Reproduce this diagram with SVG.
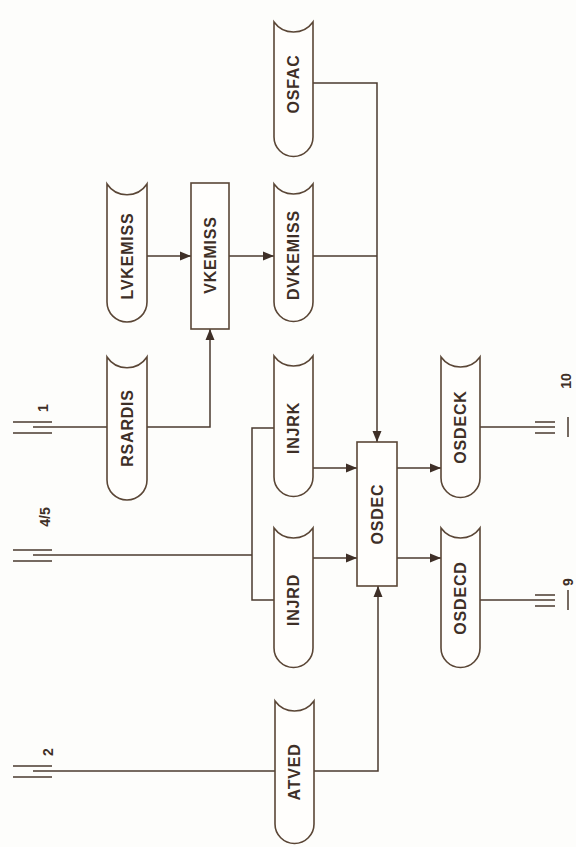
<svg xmlns="http://www.w3.org/2000/svg" width="576" height="847" viewBox="0 0 576 847">
  <defs>
    <marker id="arr" markerWidth="12" markerHeight="10" refX="11" refY="5" orient="auto" markerUnits="userSpaceOnUse">
      <path d="M0,0.5 L11,5 L0,9.5 Z" fill="#3e2f27"/>
    </marker>
  </defs>
  <style>
    .shape { fill: #fffefc; stroke: #5a4636; stroke-width: 1.6; }
    .wire { fill: none; stroke: #4a3a2f; stroke-width: 1.5; }
    .lbl { font-family: "Liberation Sans", Arial, sans-serif; font-size: 16px; font-weight: bold; fill: #3e2f27; text-anchor: middle; dominant-baseline: central; letter-spacing: 0.8px; }
    .num { font-family: "Liberation Sans", Arial, sans-serif; font-size: 14px; font-weight: bold; fill: #3e2f27; text-anchor: middle; dominant-baseline: central; }
  </style>
  <rect width="576" height="847" fill="#fdfdfb"/>

  <!-- connectors -->
  <g id="connectors">
    <path class="wire" d="M313,83 H377 V442" marker-end="url(#arr)"/>
    <path class="wire" d="M313,256 H377"/>
    <path class="wire" d="M147,256 H191" marker-end="url(#arr)"/>
    <path class="wire" d="M229,256 H274" marker-end="url(#arr)"/>
    <path class="wire" d="M147,427 H210 V329" marker-end="url(#arr)"/>
    <path class="wire" d="M33,427 H107"/>
    <path class="wire" d="M33,555 H252"/>
    <path class="wire" d="M274,428 H252 V600 H274"/>
    <path class="wire" d="M313,468 H357" marker-end="url(#arr)"/>
    <path class="wire" d="M313,558 H357" marker-end="url(#arr)"/>
    <path class="wire" d="M314,771 H378 V586" marker-end="url(#arr)"/>
    <path class="wire" d="M33,771 H275"/>
    <path class="wire" d="M397,468 H441" marker-end="url(#arr)"/>
    <path class="wire" d="M397,558 H441" marker-end="url(#arr)"/>
    <path class="wire" d="M480,427 H555"/>
    <path class="wire" d="M480,600 H555"/>
  </g>

  <!-- terminals -->
  <g id="term1">
    <path class="wire" d="M13,422 H52 M13,433 H52"/>
    <text class="num" transform="translate(43,408) rotate(-90)">1</text>
  </g>
  <g id="term45">
    <path class="wire" d="M13,550 H52 M13,561 H52"/>
    <text class="num" transform="translate(45,517) rotate(-90)">4/5</text>
  </g>
  <g id="term2">
    <path class="wire" d="M13,766 H52 M13,777 H52"/>
    <text class="num" transform="translate(48,752) rotate(-90)">2</text>
  </g>
  <g id="term10">
    <path class="wire" d="M535,422 H555 M535,433 H555 M568,417 V437"/>
    <text class="num" transform="translate(566,381) rotate(-90)">10</text>
  </g>
  <g id="term9">
    <path class="wire" d="M535,595 H555 M535,606 H555 M568,590 V610"/>
    <text class="num" transform="translate(568,582) rotate(-90)">9</text>
  </g>

  <!-- data stores -->
  <g id="OSFAC">
    <path class="shape" d="M274,22 A24,24 0 0 0 313,22 V137 A19.5,19.5 0 0 1 274,137 Z"/>
    <text class="lbl" transform="translate(293.5,84) rotate(-90)">OSFAC</text>
  </g>
  <g id="LVKEMISS">
    <path class="shape" d="M107,184 A24,24 0 0 0 147,184 V302 A20,20 0 0 1 107,302 Z"/>
    <text class="lbl" transform="translate(127,256) rotate(-90)">LVKEMISS</text>
  </g>
  <g id="VKEMISS">
    <rect class="shape" x="191" y="183" width="38" height="146"/>
    <text class="lbl" transform="translate(210,255) rotate(-90)">VKEMISS</text>
  </g>
  <g id="DVKEMISS">
    <path class="shape" d="M274,184 A24,24 0 0 0 313,184 V302 A19.5,19.5 0 0 1 274,302 Z"/>
    <text class="lbl" transform="translate(293.5,255) rotate(-90)">DVKEMISS</text>
  </g>
  <g id="RSARDIS">
    <path class="shape" d="M107,357 A24,24 0 0 0 147,357 V480 A20,20 0 0 1 107,480 Z"/>
    <text class="lbl" transform="translate(127,428) rotate(-90)">RSARDIS</text>
  </g>
  <g id="INJRK">
    <path class="shape" d="M274,356 A24,24 0 0 0 313,356 V477 A19.5,19.5 0 0 1 274,477 Z"/>
    <text class="lbl" transform="translate(293.5,428) rotate(-90)">INJRK</text>
  </g>
  <g id="INJRD">
    <path class="shape" d="M274,528 A24,24 0 0 0 313,528 V648 A19.5,19.5 0 0 1 274,648 Z"/>
    <text class="lbl" transform="translate(293.5,600) rotate(-90)">INJRD</text>
  </g>
  <g id="OSDEC">
    <rect class="shape" x="357" y="442" width="40" height="144"/>
    <text class="lbl" transform="translate(377,514) rotate(-90)">OSDEC</text>
  </g>
  <g id="OSDECK">
    <path class="shape" d="M441,357 A24,24 0 0 0 480,357 V478 A19.5,19.5 0 0 1 441,478 Z"/>
    <text class="lbl" transform="translate(460.5,427) rotate(-90)">OSDECK</text>
  </g>
  <g id="OSDECD">
    <path class="shape" d="M441,528 A24,24 0 0 0 480,528 V648 A19.5,19.5 0 0 1 441,648 Z"/>
    <text class="lbl" transform="translate(460.5,598) rotate(-90)">OSDECD</text>
  </g>
  <g id="ATVED">
    <path class="shape" d="M275,701 A24,24 0 0 0 314,701 V824 A19.5,19.5 0 0 1 275,824 Z"/>
    <text class="lbl" transform="translate(294.5,772) rotate(-90)">ATVED</text>
  </g>
</svg>
